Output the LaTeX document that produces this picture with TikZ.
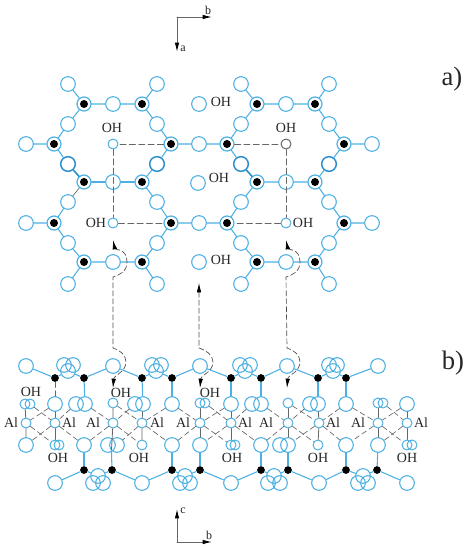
\documentclass[tikz,border=0pt]{standalone}
\usepackage{xcolor}
\usepackage{fontspec}
\setmainfont{Liberation Serif}
\usepackage{tikz}
\usetikzlibrary{arrows.meta}
\definecolor{sheetblue}{HTML}{4DB0E2}
\definecolor{sheetdark}{HTML}{2A8FCC}
\definecolor{dashgray}{HTML}{666666}
\tikzset{
	oxy/.style={circle, draw=sheetblue, line width=0.8pt, inner sep=0pt, minimum size=11pt},
	oxysmall/.style={circle, draw=sheetblue, line width=0.75pt, inner sep=0pt, minimum size=7.5pt},
	oxythick/.style={oxy, draw=sheetdark, line width=1.1pt},
	siring/.style={circle, draw=sheetblue, line width=0.9pt, inner sep=0pt, minimum size=10.5pt,
		path picture={\fill[black] (path picture bounding box.center) circle (3pt);}},
	sidot/.style={circle, fill=black, inner sep=0pt, minimum size=5.8pt},
	bond/.style={draw=sheetblue, line width=0.8pt},
	bondthick/.style={draw=sheetdark, line width=1.2pt},
	bondthin/.style={draw=dashgray, line width=0.5pt},
	pillar/.style={draw=dashgray, line width=0.6pt},
	link/.style={draw=dashgray, line width=0.5pt, dash pattern=on 4pt off 2.5pt},
	cell/.style={draw=dashgray, line width=0.65pt, dash pattern=on 4.5pt off 2.5pt},
	jump/.style={draw=black!70, line width=0.5pt, dash pattern=on 4pt off 2pt,
		{Latex[length=7pt,width=3.4pt,black]}-{Latex[length=7pt,width=3.4pt,black]}},
	axis/.style={draw=dashgray, line width=0.75pt, -{Latex[length=7pt,width=3.4pt,black]}},
	txt/.style={inner sep=0pt, text=black!85, font=\fontsize{10.5}{12}\selectfont},
	axtxt/.style={inner sep=0pt, text=black!85, font=\fontsize{9}{10}\selectfont},
	part/.style={inner sep=0pt, text=black!85, font=\fontsize{20}{22}\selectfont}
}

\begin{document}
\begin{tikzpicture}[x=0.75pt, y=-0.75pt, line cap=round, line join=round]
	
	\useasboundingbox (0,0) rectangle (469,550);
	
	%====================
	% 1) a) sheet: open circles, row by row
	%====================
	\node[oxy] (Oa1) at (68,84) {};  \node[oxy] (Oa2) at (157,84) {};  \node[oxy] (Oa3) at (241,84) {};  \node[oxy] (Oa4) at (329,84) {};
	\node[oxy] (Ob1) at (113,104) {};  \node[oxy] (Ob2) at (286,104) {};
	\node[oxy] (Oc1) at (68,124) {};  \node[oxy] (Oc2) at (157,124) {};  \node[oxy] (Oc3) at (241,124) {};  \node[oxy] (Oc4) at (329,124) {};
	\node[oxy] (Od1) at (26,144) {};  \node[oxy] (Od2) at (199,144) {};  \node[oxy] (Od3) at (372,144) {};
	\node[oxythick] (Oe1) at (68,164) {};  \node[oxythick] (Oe2) at (157,164) {};  \node[oxythick] (Oe3) at (241,164) {};  \node[oxythick] (Oe4) at (329,164) {};
	\node[oxy] (Of1) at (113,182) {};  \node[oxy] (Of2) at (286,182) {};
	\node[oxy] (Og1) at (68,202) {};  \node[oxy] (Og2) at (157,202) {};  \node[oxy] (Og3) at (241,202) {};  \node[oxy] (Og4) at (329,202) {};
	\node[oxy] (Oh1) at (26,223) {};  \node[oxy] (Oh2) at (199,223) {};  \node[oxy] (Oh3) at (372,223) {};
	\node[oxy] (Oi1) at (68,243) {};  \node[oxy] (Oi2) at (157,243) {};  \node[oxy] (Oi3) at (241,243) {};  \node[oxy] (Oi4) at (329,243) {};
	\node[oxy] (Oj1) at (113,262) {};  \node[oxy] (Oj2) at (286,262) {};
	\node[oxy] (Ok1) at (68,284) {};  \node[oxy] (Ok2) at (157,284) {};  \node[oxy] (Ok3) at (241,284) {};  \node[oxy] (Ok4) at (329,284) {};
	
	% free OH sites
	\node[oxy] (Ha) at (199,104) {};
	\node[oxy] (Hb) at (198,183) {};
	\node[oxy] (Hc) at (199,262) {};
	\node[oxysmall] (Pa) at (113,144) {};
	\node[oxysmall] (Pb) at (113,223) {};
	\node[oxysmall, draw=dashgray] (Pc) at (286,144) {};
	\node[oxysmall] (Pd) at (286,223) {};
	
	%====================
	% 2) a) sheet: ringed black atoms
	%====================
	\node[siring] (Sb1) at (84,104) {};  \node[siring] (Sb2) at (142,104) {};  \node[siring] (Sb3) at (257,104) {};  \node[siring] (Sb4) at (315,104) {};
	\node[siring] (Sd1) at (54,144) {};  \node[siring] (Sd2) at (171,144) {};  \node[siring] (Sd3) at (227,144) {};  \node[siring] (Sd4) at (344,144) {};
	\node[siring] (Sf1) at (84,182) {};  \node[siring] (Sf2) at (142,182) {};  \node[siring] (Sf3) at (257,182) {};  \node[siring] (Sf4) at (315,182) {};
	\node[siring] (Sh1) at (54,223) {};  \node[siring] (Sh2) at (171,223) {};  \node[siring] (Sh3) at (227,223) {};  \node[siring] (Sh4) at (344,223) {};
	\node[siring] (Sj1) at (84,262) {};  \node[siring] (Sj2) at (142,262) {};  \node[siring] (Sj3) at (257,262) {};  \node[siring] (Sj4) at (315,262) {};
	
	%====================
	% 3) a) sheet: bonds and dashed cells
	%====================
	\draw[bond] (Oa1) -- (Sb1) -- (Ob1) -- (Sb2) -- (Oa2);
	\draw[bond] (Sb1) -- (Oc1) -- (Sd1) -- (Od1);
	\draw[bond] (Sd1) -- (Oe1);
	\draw[bond] (Sf1) -- (Of1) -- (Sf2);
	\draw[bond] (Og1) -- (Sh1) -- (Oh1);
	\draw[bond] (Sh1) -- (Oi1) -- (Sj1) -- (Oj1) -- (Sj2) -- (Ok2);
	\draw[bond] (Sj1) -- (Ok1);
	\draw[bond] (Sj2) -- (Oi2) -- (Sh2) -- (Oh2) -- (Sh3);
	\draw[bond] (Sh2) -- (Og2) -- (Sf2) -- (Oe2) -- (Sd2) -- (Od2) -- (Sd3);
	\draw[bond] (Sd2) -- (Oc2) -- (Sb2);
	\draw[bond] (Oa3) -- (Sb3) -- (Ob2) -- (Sb4) -- (Oa4);
	\draw[bond] (Sb3) -- (Oc3) -- (Sd3) -- (Oe3);
	\draw[bond] (Sb4) -- (Oc4) -- (Sd4) -- (Od3);
	\draw[bond] (Sd4) -- (Oe4) -- (Sf4) -- (Of2) -- (Sf3);
	\draw[bond] (Sf3) -- (Og3) -- (Sh3) -- (Oi3) -- (Sj3) -- (Oj2) -- (Sj4) -- (Ok4);
	\draw[bond] (Sj3) -- (Ok3);
	\draw[bond] (Sf4) -- (Og4) -- (Sh4) -- (Oh3);
	\draw[bond] (Sh4) -- (Oi4) -- (Sj4);
	\draw[bondthick] (Oe1) -- (Sf1);
	\draw[bondthick] (Oe3) -- (Sf3);
	\draw[bondthin] (Sf1) -- (Og1);
	
	\draw[cell] (Sd2) -- (Pa) -- (Pb) -- (Sh2);
	\draw[cell] (Sd3) -- (Pc) -- (Pd) -- (Sh3);
	
	%====================
	% 4) b) layer: upper row
	%====================
	\node[oxy] (Ta) at (26,366) {};
	\node[oxy] (Tb1) at (64,365) {};  \node[oxy] (Tb2) at (68,371) {};  \node[oxy] (Tb3) at (73,365) {};
	\node[oxy] (Tc) at (113,366) {};
	\node[oxy] (Td1) at (152,365) {};  \node[oxy] (Td2) at (156,371) {};  \node[oxy] (Td3) at (161,365) {};
	\node[oxy] (Te) at (200,366) {};
	\node[oxy] (Tf1) at (240,365) {};  \node[oxy] (Tf2) at (245,371) {};  \node[oxy] (Tf3) at (250,365) {};
	\node[oxy] (Tg) at (287,366) {};
	\node[oxy] (Th1) at (329,365) {};  \node[oxy] (Th2) at (333,371) {};  \node[oxy] (Th3) at (337,365) {};
	\node[oxy] (Ti) at (378,366) {};
	
	\node[sidot] (Ba) at (55,378) {};  \node[sidot] (Bb) at (84,378) {};  \node[sidot] (Bc) at (142,378) {};  \node[sidot] (Bd) at (172,378) {};
	\node[sidot] (Be) at (231,378) {};  \node[sidot] (Bf) at (261,378) {};  \node[sidot] (Bg) at (318,378) {};  \node[sidot] (Bh) at (346,378) {};
	
	\draw[bond] (Ta) -- (Ba) -- (Tb2) -- (Bb) -- (Tc) -- (Bc) -- (Td2) -- (Bd) -- (Te) -- (Be) -- (Tf2) -- (Bf) -- (Tg) -- (Bg) -- (Th2) -- (Bh) -- (Ti);
	
	%====================
	% 5) b) layer: octahedra rows
	%====================
	\node[oxysmall] (Ca) at (25,404) {};  \node[oxysmall] (Cb) at (30,404) {};
	\node[oxy] (Cc) at (55,404) {};
	\node[oxy] (Cd) at (76,404) {};  \node[oxy] (Ce) at (85,404) {};
	\node[oxysmall] (Cf) at (113,403) {};
	\node[oxy] (Cg) at (135,404) {};  \node[oxy] (Ch) at (143,404) {};
	\node[oxy] (Ci) at (172,404) {};
	\node[oxysmall] (Cj) at (200,403) {};  \node[oxysmall] (Ck) at (205,403) {};
	\node[oxy] (Cl) at (231,404) {};
	\node[oxy] (Cm) at (252,404) {};  \node[oxy] (Cn) at (261,404) {};
	\node[oxysmall] (Co) at (288,403) {};
	\node[oxy] (Cp) at (310,404) {};  \node[oxy] (Cq) at (318,404) {};
	\node[oxy] (Cr) at (346,404) {};
	\node[oxysmall] (Cs) at (378,403) {};  \node[oxysmall] (Ct) at (383,403) {};
	\node[oxy] (Cu) at (407,404) {};
	
	\node[oxysmall] (Ma) at (26,423) {};  \node[oxysmall] (Mb) at (55,423) {};  \node[oxysmall] (Mc) at (113,423) {};  \node[oxysmall] (Md) at (142,423) {};  \node[oxysmall] (Me) at (200,423) {};
	\node[oxysmall] (Mf) at (231,423) {};  \node[oxysmall] (Mg) at (288,423) {};  \node[oxysmall] (Mh) at (319,423) {};  \node[oxysmall] (Mi) at (378,423) {};  \node[oxysmall] (Mj) at (407,423) {};
	
	\node[oxy] (La) at (26,445) {};
	\node[oxysmall] (Lb) at (55,445) {};  \node[oxysmall] (Lc) at (59,445) {};
	\node[oxy] (Ld) at (84,445) {};
	\node[oxy] (Le) at (108,445) {};  \node[oxy] (Lf) at (117,445) {};
	\node[oxysmall] (Lg) at (142,445) {};
	\node[oxy] (Lh) at (172,445) {};
	\node[oxy] (Li) at (200,445) {};
	\node[oxysmall] (Lj) at (231,445) {};  \node[oxysmall] (Lk) at (235,445) {};
	\node[oxy] (Ll) at (261,445) {};
	\node[oxy] (Lm) at (280,445) {};  \node[oxy] (Ln) at (288,445) {};
	\node[oxysmall] (Lo) at (318,445) {};
	\node[oxy] (Lp) at (346,445) {};
	\node[oxy] (Lq) at (378,445) {};
	\node[oxysmall] (Lr) at (407,445) {};  \node[oxysmall] (Ls) at (412,445) {};
	
	% bonds from the black atoms down to the octahedra
	\draw[link] (Ba) -- (Cc);
	\draw[bond] (Bb) -- (Ce);
	\draw[bond] (Bc) -- (Ch);
	\draw[bond] (Bd) -- (Ci);
	\draw[bond] (Be) -- (Cl);
	\draw[bond] (Bf) -- (Cn);
	\draw[bond] (Bg) -- (Cq);
	\draw[bond] (Bh) -- (Cr);
	
	% vertical lines through the centres
	\draw[pillar] (Ca) -- (Ma) -- (La);
	\draw[pillar] (Cc) -- (Mb) -- (Lb);
	\draw[pillar] (Cf) -- (Mc) -- (Lf.225);
	\draw[pillar] (Ch) -- (Md) -- (Lg);
	\draw[pillar] (Cj) -- (Me) -- (Li);
	\draw[pillar] (Cl) -- (Mf) -- (Lj);
	\draw[pillar] (Co) -- (Mg) -- (Ln);
	\draw[pillar] (Cq) -- (Mh) -- (Lo);
	\draw[pillar] (Cs) -- (Mi) -- (Lq);
	\draw[pillar] (Cu) -- (Mj) -- (Lr);
	
	% dashed octahedra edges
	\draw[link] (Cc) -- (Ma) -- (Lb);
	\draw[link] (Cb) -- (Mb) -- (La);
	\draw[link] (Cd) -- (Mb) -- (Ld);
	\draw[link] (Ce) -- (Mc) -- (Ld);
	\draw[link] (Cg) -- (Mc) -- (Lg);
	\draw[link] (Cf) -- (Md) -- (Lf);
	\draw[link] (Ci) -- (Md) -- (Lh);
	\draw[link] (Ci) -- (Me) -- (Lh);
	\draw[link] (Cl) -- (Me) -- (Lj);
	\draw[link] (Ck) -- (Mf) -- (Li);
	\draw[link] (Cm) -- (Mf) -- (Ll);
	\draw[link] (Cn) -- (Mg) -- (Ll);
	\draw[link] (Cp) -- (Mg) -- (Lo);
	\draw[link] (Co) -- (Mh) -- (Ln);
	\draw[link] (Cr) -- (Mh) -- (Lp);
	\draw[link] (Cr) -- (Mi) -- (Lp);
	\draw[link] (Cu) -- (Mi) -- (Lr);
	\draw[link] (Ct) -- (Mj) -- (Lq);
	
	%====================
	% 6) b) layer: lower row
	%====================
	\node[sidot] (Da) at (84,470) {};  \node[sidot] (Db) at (112,470) {};  \node[sidot] (Dc) at (172,470) {};  \node[sidot] (Dd) at (200,470) {};
	\node[sidot] (De) at (261,470) {};  \node[sidot] (Df) at (288,470) {};  \node[sidot] (Dg) at (346,470) {};  \node[sidot] (Dh) at (377,470) {};
	
	\node[oxy] (Ea) at (55,483) {};
	\node[oxy] (Eb) at (93,483) {};  \node[oxy] (Ec) at (98,476) {};  \node[oxy] (Ed) at (103,483) {};
	\node[oxy] (Ee) at (142,483) {};
	\node[oxy] (Ef) at (180,483) {};  \node[oxy] (Eg) at (185,476) {};  \node[oxy] (Eh) at (190,483) {};
	\node[oxy] (Ei) at (231,483) {};
	\node[oxy] (Ej) at (268,483) {};  \node[oxy] (Ek) at (274,476) {};  \node[oxy] (El) at (280,483) {};
	\node[oxy] (Em) at (319,483) {};
	\node[oxy] (En) at (358,483) {};  \node[oxy] (Eo) at (363,476) {};  \node[oxy] (Ep) at (368,483) {};
	\node[oxy] (Eq) at (407,483) {};
	
	\draw[bond] (Ea) -- (Da) -- (Ec) -- (Db) -- (Ee) -- (Dc) -- (Eg) -- (Dd) -- (Ei) -- (De) -- (Ek) -- (Df) -- (Em) -- (Dg) -- (Eo) -- (Dh) -- (Eq);
	
	\draw[bond] (Ld) -- (Da);
	\draw[bond] (Lf.225) -- (Db);
	\draw[bond] (Lh) -- (Dc);
	\draw[bond] (Li) -- (Dd);
	\draw[bond] (Ll) -- (De);
	\draw[bond] (Ln) -- (Df);
	\draw[bond] (Lp) -- (Dg);
	\draw[bond] (Lq) -- (Dh);
	
	%====================
	% 7) dashed arrows between the two parts
	%====================
	\coordinate (JaTop) at (113,240);  \coordinate (JaEnd) at (113,388);
	\coordinate (JbTop) at (199,283);  \coordinate (JbEnd) at (200,388);
	\coordinate (JcTop) at (286,240);  \coordinate (JcEnd) at (287,388);
	
	\draw[jump] (JaTop) .. controls (115,250) and (127,248) .. (127,262) .. controls (127,272) and (119,275) .. (113,277) -- (113,348) .. controls (120,350) and (126,355) .. (126,362) .. controls (126,372) and (114,375) .. (JaEnd);
	\draw[jump] (JbTop) -- (199,348) .. controls (206,350) and (213,355) .. (213,362) .. controls (213,372) and (201,375) .. (JbEnd);
	\draw[jump] (JcTop) .. controls (288,250) and (300,248) .. (300,262) .. controls (300,272) and (292,275) .. (286,277) -- (287,348) .. controls (294,350) and (300,355) .. (300,362) .. controls (300,372) and (288,375) .. (JcEnd);
	
	%====================
	% 8) labels
	%====================
	\node[txt] (OHa) at (112,128) {OH};
	\node[txt] (OHb) at (96,223) {OH};
	\node[txt] (OHc) at (221,102) {OH};
	\node[txt] (OHd) at (219,178) {OH};
	\node[txt] (OHe) at (221,260) {OH};
	\node[txt] (OHf) at (286,128) {OH};
	\node[txt] (OHg) at (303,223) {OH};
	
	\node[txt] (OHh) at (31,392) {OH};
	\node[txt] (OHi) at (121,393) {OH};
	\node[txt] (OHj) at (210,393) {OH};
	\node[txt] (OHk) at (58,458) {OH};
	\node[txt] (OHl) at (139,458) {OH};
	\node[txt] (OHm) at (232,458) {OH};
	\node[txt] (OHn) at (318,458) {OH};
	\node[txt] (OHo) at (407,458) {OH};
	
	\node[txt] (Ala) at (11,423) {Al};
	\node[txt] (Alb) at (69,423) {Al};
	\node[txt] (Alc) at (93,423) {Al};
	\node[txt] (Ald) at (157,423) {Al};
	\node[txt] (Ale) at (183,423) {Al};
	\node[txt] (Alf) at (245,423) {Al};
	\node[txt] (Alg) at (266,423) {Al};
	\node[txt] (Alh) at (333,423) {Al};
	\node[txt] (Ali) at (358,423) {Al};
	\node[txt] (Alj) at (421,423) {Al};
	
	\node[part] (PartA) at (452,79) {a)};
	\node[part] (PartB) at (453,363) {b)};
	
	%====================
	% 9) axes
	%====================
	\coordinate (AxTop) at (177,17);
	\coordinate (AxTopB) at (212,17);
	\coordinate (AxTopA) at (177,52);
	\draw[axis] (AxTop) -- (AxTopB);
	\draw[axis] (AxTop) -- (AxTopA);
	\node[axtxt] (AxLabB) at (208,10) {b};
	\node[axtxt] (AxLabA) at (183,49) {a};
	
	\coordinate (AxBot) at (177,542);
	\coordinate (AxBotB) at (212,542);
	\coordinate (AxBotC) at (177,509);
	\draw[axis] (AxBot) -- (AxBotB);
	\draw[axis] (AxBot) -- (AxBotC);
	\node[axtxt] (AxLabC) at (183,511) {c};
	\node[axtxt] (AxLabD) at (209,535) {b};
	
\end{tikzpicture}
\end{document}
